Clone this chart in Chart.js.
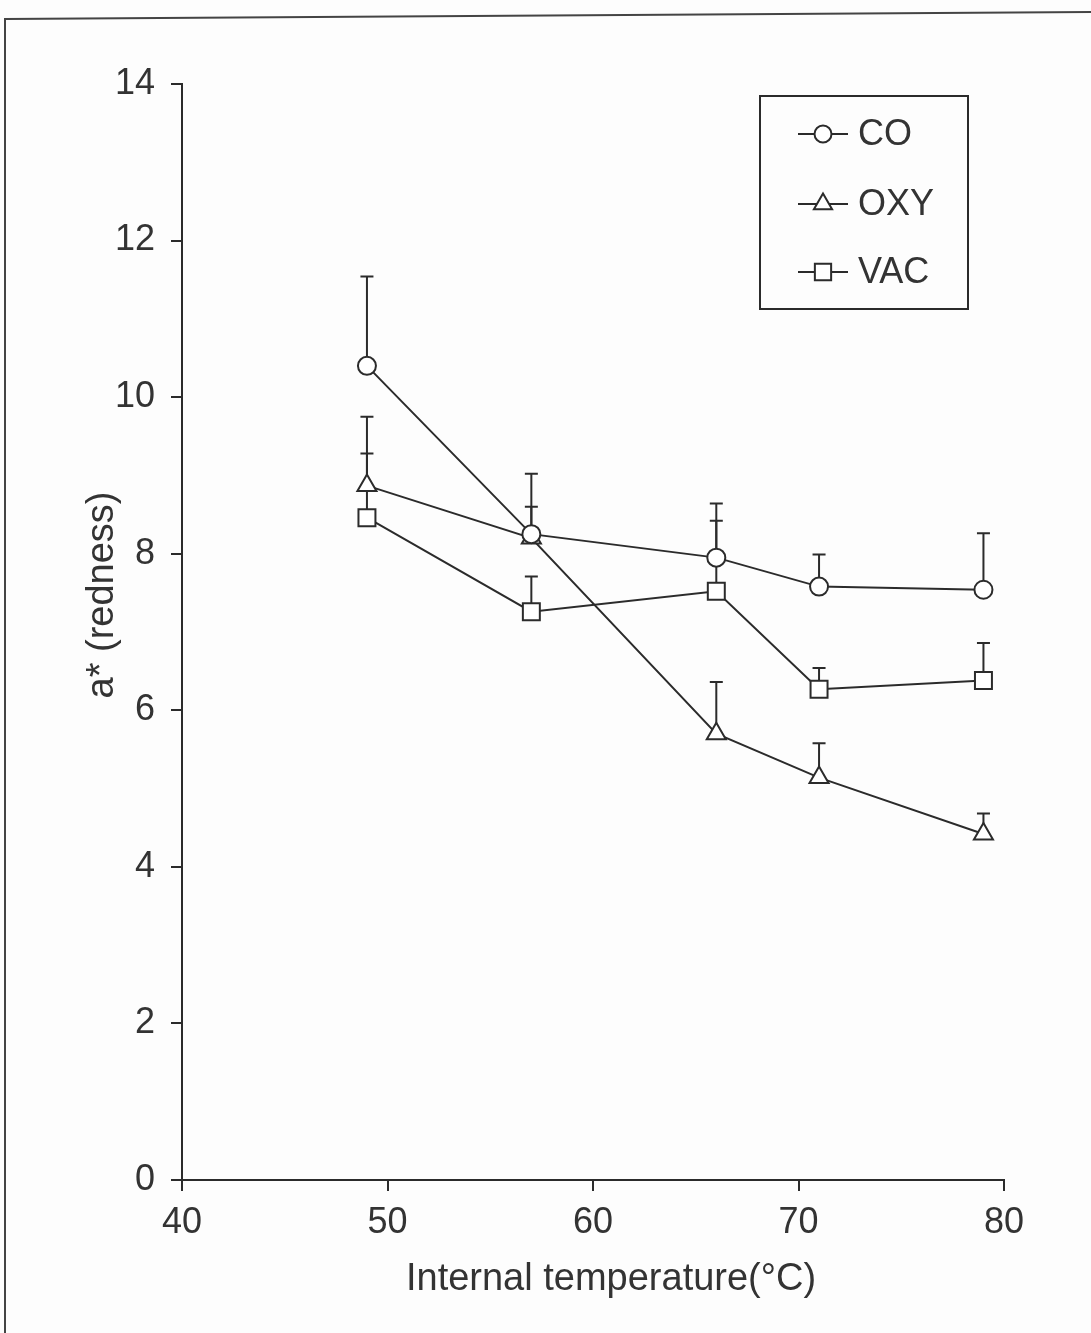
<!DOCTYPE html>
<html>
<head>
<meta charset="utf-8">
<script src="https://cdn.jsdelivr.net/npm/chart.js@4.4.1/dist/chart.umd.min.js"></script>
<style>
  html, body { margin: 0; padding: 0; background: #fdfdfd; }
  #wrap { width: 1091px; height: 1333px; position: relative; }
</style>
</head>
<body>
<div id="wrap"><canvas id="rednessChart"></canvas></div>
<script>
// a* (redness) vs internal temperature, mean + upper error bar
const temps = [49, 57, 66, 71, 79];
const coMean = [10.4, 8.25, 7.95, 7.58, 7.54];
const coUpper = [11.54, 9.02, 8.64, 7.99, 8.26];
const oxyMean = [8.87, 8.2, 5.7, 5.14, 4.42];
const oxyUpper = [9.28, 8.6, 6.36, 5.58, 4.68];
const vacMean = [8.46, 7.26, 7.52, 6.27, 6.38];
const vacUpper = [9.75, 7.71, 8.42, 6.54, 6.86];
const xTicks = [40, 50, 60, 70, 80];
const yTicks = [0, 2, 4, 6, 8, 10, 12, 14];

const ink = '#2b2b2b';
const fontFamily = '"Liberation Sans", Arial, sans-serif';

function toPoints(xs, ys) {
    return xs.map((x, i) => ({ x: x, y: ys[i] }));
}

function series(label, mean, upper, style, radius) {
    return {
        label: label,
        data: toPoints(temps, mean),
        upper: upper,
        borderColor: ink,
        borderWidth: 2,
        tension: 0,
        fill: false,
        pointStyle: style,
        pointRadius: radius,
        pointBackgroundColor: '#ffffff',
        pointBorderColor: ink,
        pointBorderWidth: 2
    };
}

const errorBarPlugin = {
    id: 'errorBars',
    beforeDatasetsDraw(chart) {
        const { ctx, scales: { x, y } } = chart;
        ctx.save();
        ctx.strokeStyle = ink;
        ctx.lineWidth = 2;
        chart.data.datasets.forEach(ds => {
            ds.data.forEach((p, i) => {
                const px = x.getPixelForValue(p.x);
                const py = y.getPixelForValue(p.y);
                const pu = y.getPixelForValue(ds.upper[i]);
                ctx.beginPath();
                ctx.moveTo(px, py);
                ctx.lineTo(px, pu);
                ctx.moveTo(px - 6.5, pu);
                ctx.lineTo(px + 6.5, pu);
                ctx.stroke();
            });
        });
        ctx.restore();
    }
};

const framePlugin = {
    id: 'frame',
    beforeDraw(chart) {
        const { ctx } = chart;
        ctx.save();
        ctx.fillStyle = '#fdfdfd';
        ctx.fillRect(0, 0, chart.width, chart.height);
        ctx.strokeStyle = '#444';
        ctx.lineWidth = 2;
        ctx.beginPath();
        ctx.moveTo(5, chart.height);
        ctx.lineTo(5, 19);
        ctx.lineTo(chart.width, 12);
        ctx.stroke();
        ctx.restore();
    },
    afterDraw(chart) {
        const { ctx } = chart;
        ctx.save();
        ctx.fillStyle = '#333';
        ctx.textAlign = 'center';
        ctx.textBaseline = 'middle';

        // axis titles
        ctx.font = '38px ' + fontFamily;
        ctx.fillText('Internal temperature(\u00B0C)', 611, 1280);
        ctx.save();
        ctx.translate(103, 595);
        ctx.rotate(-Math.PI / 2);
        ctx.fillText('a* (redness)', 0, 0);
        ctx.restore();

        // legend box
        ctx.strokeStyle = ink;
        ctx.lineWidth = 2;
        ctx.strokeRect(760, 96, 208, 213);
        const rows = [134, 204, 272];
        const legendRadius = { circle: 8.5, triangle: 10.5, rect: 11.5 };
        ctx.font = '36px ' + fontFamily;
        ctx.textAlign = 'left';
        chart.data.datasets.forEach((ds, i) => {
            const yy = rows[i];
            ctx.beginPath();
            ctx.moveTo(798, yy);
            ctx.lineTo(848, yy);
            ctx.stroke();
            ctx.fillStyle = '#ffffff';
            Chart.helpers.drawPoint(ctx, {
                pointStyle: ds.pointStyle,
                radius: legendRadius[ds.pointStyle],
                rotation: 0,
                borderWidth: 2
            }, 823, yy);
            ctx.fillStyle = '#333';
            ctx.fillText(ds.label, 858, yy + 1);
        });
        ctx.restore();
    }
};

new Chart(document.getElementById('rednessChart'), {
    type: 'line',
    data: {
        datasets: [
            series('CO', coMean, coUpper, 'circle', 9),
            series('OXY', oxyMean, oxyUpper, 'triangle', 11),
            series('VAC', vacMean, vacUpper, 'rect', 12)
        ]
    },
    options: {
        responsive: true,
        maintainAspectRatio: false,
        animation: false,
        layout: { padding: { top: 84, right: 87, left: 0, bottom: 0 } },
        scales: {
            x: {
                type: 'linear',
                min: xTicks[0],
                max: xTicks[xTicks.length - 1],
                afterBuildTicks: s => { s.ticks = xTicks.map(v => ({ value: v })); },
                afterFit: s => { s.height = 153; },
                ticks: { color: '#333', padding: 10, font: { size: 36, family: fontFamily } },
                grid: { drawOnChartArea: false, tickLength: 11, color: ink, lineWidth: 2 },
                border: { display: true, color: ink, width: 2 }
            },
            y: {
                min: yTicks[0],
                max: yTicks[yTicks.length - 1],
                afterBuildTicks: s => { s.ticks = yTicks.map(v => ({ value: v })); },
                afterFit: s => { s.width = 182; },
                ticks: { color: '#333', padding: 16, font: { size: 36, family: fontFamily } },
                grid: { drawOnChartArea: false, tickLength: 11, color: ink, lineWidth: 2 },
                border: { display: true, color: ink, width: 2 }
            }
        },
        plugins: {
            legend: { display: false },
            tooltip: { enabled: false }
        }
    },
    plugins: [errorBarPlugin, framePlugin]
});
</script>
</body>
</html>
